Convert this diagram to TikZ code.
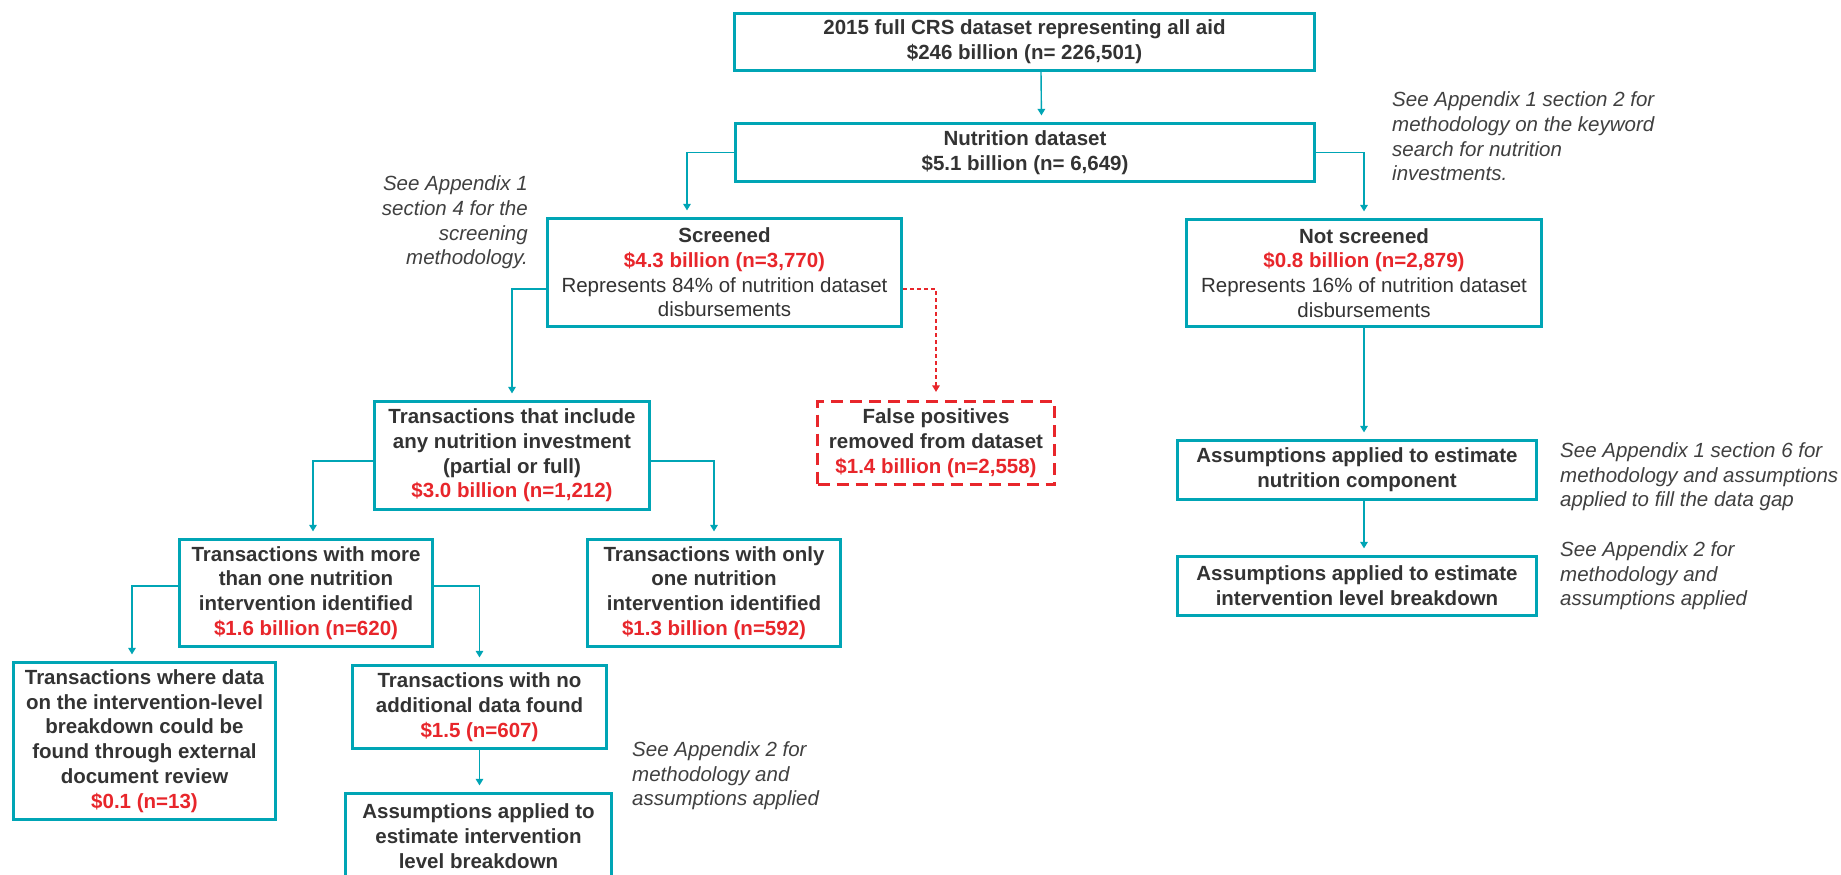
\documentclass[tikz,border=0pt]{standalone}
\usepackage{fontspec}
\setmainfont{Liberation Sans}
\usetikzlibrary{arrows.meta}
\definecolor{tealc}{HTML}{00A5B5}
\definecolor{redc}{HTML}{E8262B}
\definecolor{txtc}{HTML}{333333}
\definecolor{notec}{HTML}{404040}
\newcommand\rdtxt[1]{{\color{redc}#1}}
\newcommand\mdtxt[1]{{\mdseries #1}}
\tikzset{
  box/.style={draw=tealc, line width=3.2pt, rectangle, inner sep=0pt, align=center,
    font=\fontsize{20.5}{24.7}\selectfont\bfseries, text=txtc},
  redbox/.style={box, draw=redc, dash pattern=on 12pt off 7pt},
  note/.style={font=\fontsize{20.5}{24.6}\selectfont\itshape, text=notec, inner sep=0pt},
  arr/.style={draw=tealc, line width=1.4pt, -{Triangle[length=6.5pt,width=7.5pt]}, shorten >=6.5pt},
  redarr/.style={draw=redc, line width=1.3pt, dash pattern=on 4pt off 3pt, -{Triangle[length=6.5pt,width=7.5pt]}, shorten >=8pt}
}
\begin{document}
\begin{tikzpicture}[x=1pt,y=-1pt]
\useasboundingbox (0,0) rectangle (1841,875);
\fill[white] (0,0) rectangle (1841,875);
\clip (0,0) rectangle (1841,875);

% boxes
\node[box, minimum width=580pt, minimum height=57pt] (b1) at (1024.5,42)
  {2015 full CRS dataset representing all aid\\\$246 billion (n= 226,501)};
\node[box, minimum width=579pt, minimum height=58pt] (b2) at (1025,152.5)
  {Nutrition dataset\\\$5.1 billion (n= 6,649)};
\node[box, minimum width=354pt, minimum height=108pt] (scr) at (724.5,272.5)
  {Screened\\\rdtxt{\$4.3 billion (n=3,770)}\\\mdtxt{Represents 84\% of nutrition dataset}\\\mdtxt{disbursements}};
\node[box, minimum width=355pt, minimum height=107pt] (nscr) at (1364,273)
  {Not screened\\\rdtxt{\$0.8 billion (n=2,879)}\\\mdtxt{Represents 16\% of nutrition dataset}\\\mdtxt{disbursements}};
\node[redbox, minimum width=237pt, minimum height=83pt] (fp) at (936,443)
  {False positives\\removed from dataset\\\rdtxt{\$1.4 billion (n=2,558)}};
\node[box, minimum width=275pt, minimum height=108pt] (inc) at (512,455.5)
  {Transactions that include\\any nutrition investment\\(partial or full)\\\rdtxt{\$3.0 billion (n=1,212)}};
\node[box, minimum width=253pt, minimum height=107pt] (more) at (306,593)
  {Transactions with more\\than one nutrition\\intervention identified\\\rdtxt{\$1.6 billion (n=620)}};
\node[box, minimum width=253pt, minimum height=107pt] (only) at (714,593)
  {Transactions with only\\one nutrition\\intervention identified\\\rdtxt{\$1.3 billion (n=592)}};
\node[box, minimum width=262pt, minimum height=157pt] (where) at (144.5,741)
  {Transactions where data\\on the intervention-level\\breakdown could be\\found through external\\document review\\\rdtxt{\$0.1 (n=13)}};
\node[box, minimum width=254pt, minimum height=83pt] (noadd) at (479.5,707)
  {Transactions with no\\additional data found\\\rdtxt{\$1.5 (n=607)}};
\node[box, minimum width=266pt, minimum height=85pt] (asmL) at (478.5,836)
  {Assumptions applied to\\estimate intervention\\level breakdown};
\node[box, minimum width=359pt, minimum height=59pt] (asmNut) at (1357,470)
  {Assumptions applied to estimate\\nutrition component};
\node[box, minimum width=359pt, minimum height=59pt] (asmInt) at (1357,586)
  {Assumptions applied to estimate\\intervention level breakdown};

% notes
\node[note, anchor=east, align=right] (n1) at (528,222.5)
  {See Appendix 1\\section 4 for the\\screening\\methodology.};
\node[note, anchor=west, align=left] (n2) at (1392,136.5)
  {See Appendix 1 section 2 for\\methodology on the keyword\\search for nutrition\\investments.};
\node[note, anchor=west, align=left] (n3) at (632,776)
  {See Appendix 2 for\\methodology and\\assumptions applied};
\node[note, anchor=west, align=left] (n4) at (1560,477)
  {See Appendix 1 section 6 for\\methodology and assumptions\\applied to fill the data gap};
\node[note, anchor=west, align=left] (n5) at (1560,576)
  {See Appendix 2 for\\methodology and\\assumptions applied};

% connectors
\draw[arr] ([xshift=16.5pt]b1.south) -- ([xshift=16.5pt]b2.north);
\draw[arr] (b2.west) -| ([xshift=-37.5pt]scr.north);
\draw[arr] (b2.east) -| (nscr.north);
\draw[arr] ([yshift=-16.5pt]scr.west) -| (inc.north);
\draw[redarr] ([yshift=-16.5pt]scr.east) -| (fp.north);
\draw[arr] ([yshift=-5.5pt]inc.west) -| ([xshift=7pt]more.north);
\draw[arr] ([yshift=-5.5pt]inc.east) -| (only.north);
\draw[arr] ([yshift=7pt]more.west) -| ([xshift=-12.5pt]where.north);
\draw[arr] ([yshift=7pt]more.east) -| (noadd.north);
\draw[arr] (noadd.south) -- (noadd.south |- asmL.north);
\draw[arr] (nscr.south) -- (nscr.south |- asmNut.north);
\draw[arr] (asmNut.south -| nscr.south) -- (nscr.south |- asmInt.north);
\end{tikzpicture}
\end{document}
